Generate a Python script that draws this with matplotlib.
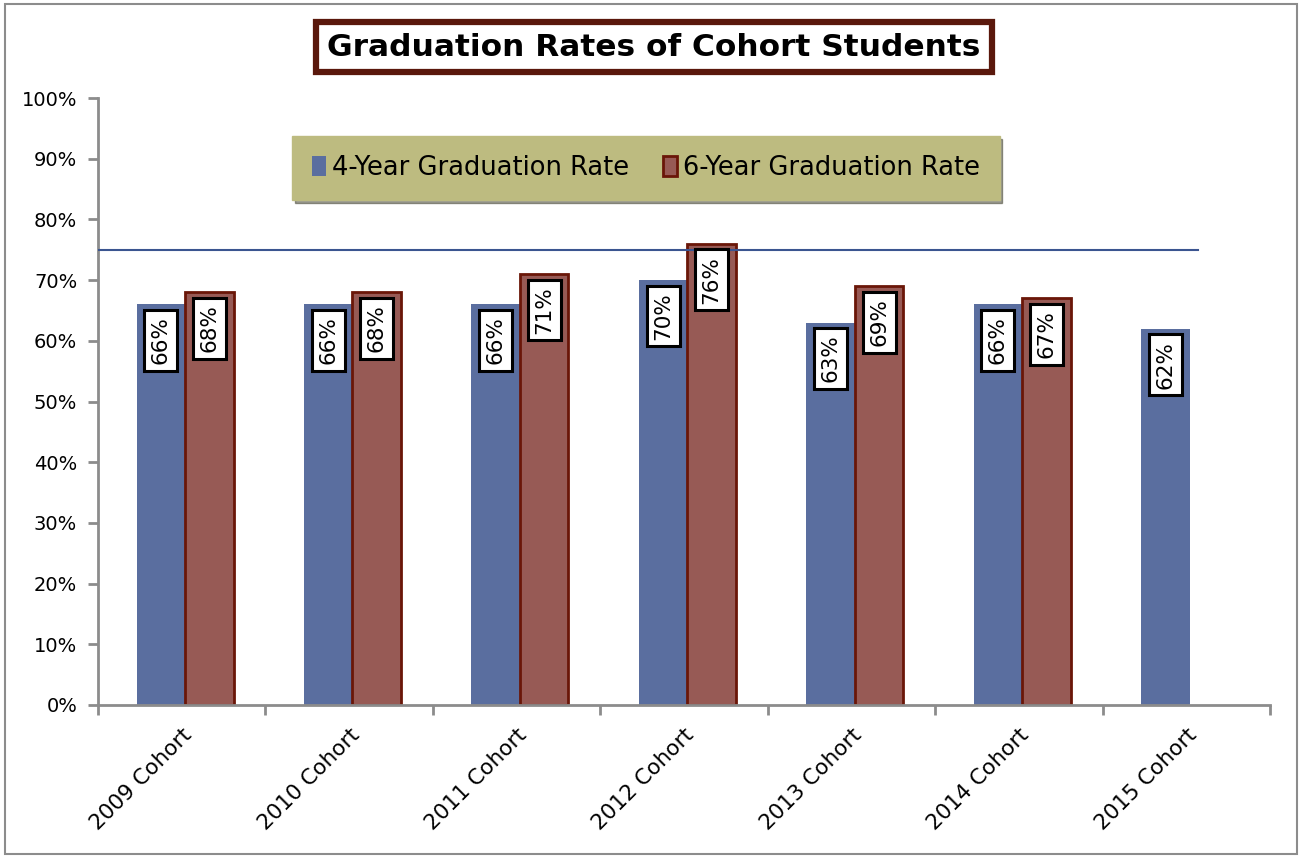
import matplotlib
matplotlib.use("Agg")
import matplotlib.pyplot as plt
import matplotlib.patches as mpatches
import numpy as np

categories = ["2009 Cohort", "2010 Cohort", "2011 Cohort", "2012 Cohort",
              "2013 Cohort", "2014 Cohort", "2015 Cohort"]
four_year = [66, 66, 66, 70, 63, 66, 62]
six_year = [68, 68, 71, 76, 69, 67, np.nan]
target = 75
yticks = list(range(0, 101, 10))

plt.rcParams['font.family'] = ['DejaVu Sans']

BLUE = '#5a6e9f'
RED = '#975a55'
RED_EDGE = '#6a1608'
GRAY = '#8c8c8c'

fig = plt.figure(figsize=(13.02, 8.57), dpi=100)
ax = fig.add_axes([98/1302, 1-705/857, (1270-98)/1302, (705-98)/857])

x = np.arange(len(categories))
w = 0.29
off = 0.02
ax.bar(x - w/2 + off, four_year, w, color=BLUE, edgecolor='none', zorder=2, label='4-Year Graduation Rate')
ax.bar(x + w/2 + off, six_year, w, color=RED, edgecolor=RED_EDGE, linewidth=2, zorder=2, label='6-Year Graduation Rate')

def label(xs, vals):
    for xi, v in zip(xs, vals):
        if np.isnan(v):
            continue
        ax.text(xi, v - 2.0, f"{int(v)}%", rotation=90, ha='center', va='top',
                fontsize=15.5, color='black', zorder=4,
                bbox=dict(boxstyle='square,pad=0.3', fc='white', ec='black', lw=2.2))

label(x - w/2 + off, four_year)
label(x + w/2 + off, six_year)

ax.axhline(target, xmin=0, xmax=(1198-98)/(1270-98), color='#3b5590', lw=1.5, zorder=3)

ax.set_xlim(-0.5, len(categories) - 0.5)
ax.set_ylim(0, 100)
ax.set_yticks(yticks)
ax.set_yticklabels([f"{t}%" for t in yticks], fontsize=14)
ax.set_xticks(x)
ax.set_xticklabels(categories, rotation=45, ha='right', rotation_mode='anchor', fontsize=15.5)
ax.set_xticks(np.arange(-0.5, len(categories), 1), minor=True)
ax.tick_params(axis='x', which='major', length=0, pad=14)
ax.tick_params(axis='x', which='minor', length=7, color=GRAY, width=2, direction='out')
ax.tick_params(axis='y', length=7, color=GRAY, width=2, direction='out', pad=8)
for s in ['top', 'right']:
    ax.spines[s].set_visible(False)
for s in ['left', 'bottom']:
    ax.spines[s].set_color(GRAY)
    ax.spines[s].set_linewidth(2)

leg = ax.legend(loc='center', bbox_to_anchor=((646-98)/1172, (705-168)/607),
                ncol=2, fontsize=18.5, frameon=True, fancybox=False, shadow=True,
                handlelength=0.55, handleheight=0.8, handletextpad=0.25,
                columnspacing=1.3, borderpad=0.75)
leg.get_frame().set_facecolor('#bdbb80')
leg.get_frame().set_edgecolor('#bdbb80')
leg.get_frame().set_alpha(1)

fig.text(654/1302, 1-47/857, "Graduation Rates of Cohort Students", ha='center', va='center',
         fontsize=22.5, fontweight='bold',
         bbox=dict(boxstyle='square,pad=0.35', fc='white', ec='#5a180c', lw=4.5))

fig.patches.append(mpatches.Rectangle((5/1302, 3/857), 1292/1302, 850/857, transform=fig.transFigure,
                                      fill=False, ec=GRAY, lw=1.5))

fig.savefig("out.png", dpi=100)
